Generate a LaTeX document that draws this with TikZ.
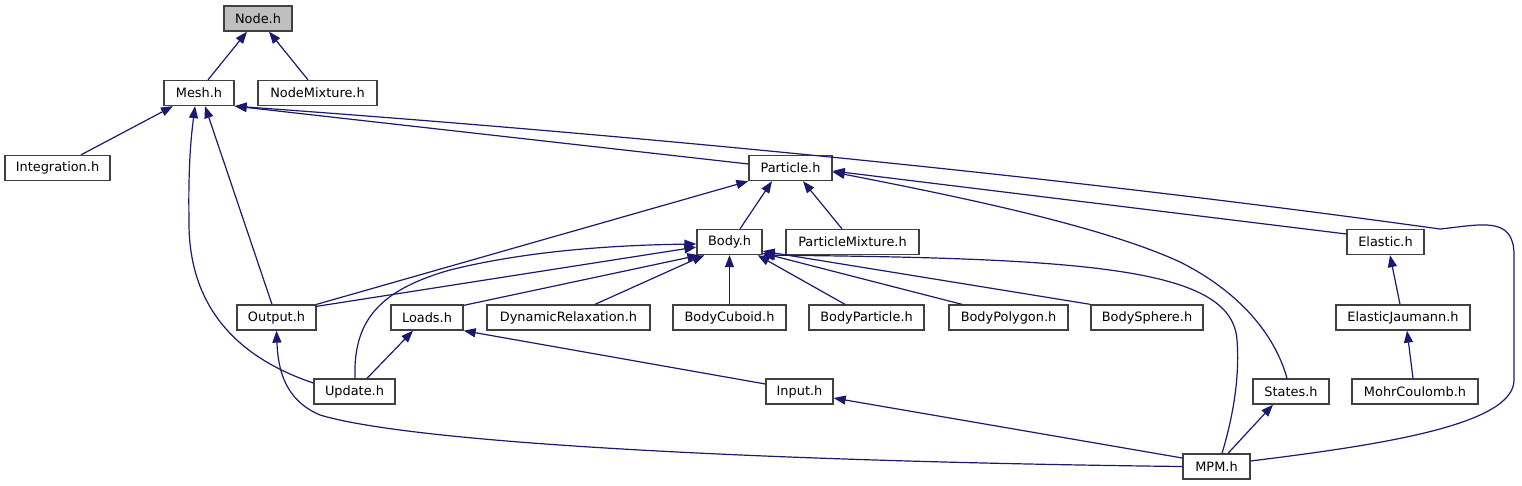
\documentclass[tikz,border=0pt]{standalone}
\usepackage{fontspec}
\setmainfont{DejaVu Sans}
\usetikzlibrary{arrows.meta}
\definecolor{edgec}{HTML}{191970}
\definecolor{boxc}{HTML}{404040}
\definecolor{hlfill}{HTML}{BFBFBF}
\begin{document}
\begin{tikzpicture}[x=1pt,y=-1pt,
  box/.style={draw=boxc, line width=1.3pt, fill=white, minimum height=25pt, inner sep=0pt,
    font=\fontsize{12.9}{15}\selectfont, text=black},
  edge/.style={draw=edgec, line width=1.2pt, -{Triangle[length=12pt,width=9pt]}}]
\useasboundingbox (0,0) rectangle (1522,485);
\node[box, fill=hlfill, minimum width=68pt] (node) at (258,18.5) {Node.h};
\node[box, minimum width=70pt] (mesh) at (199,93) {Mesh.h};
\node[box, minimum width=119pt] (nodemix) at (317.5,93) {NodeMixture.h};
\node[box, minimum width=105pt] (integ) at (57.5,168) {Integration.h};
\node[box, minimum width=83pt] (particle) at (790.5,168) {Particle.h};
\node[box, minimum width=65pt] (body) at (729.5,242) {Body.h};
\node[box, minimum width=133pt] (pmix) at (852.5,242) {ParticleMixture.h};
\node[box, minimum width=77pt] (elastic) at (1385.5,242) {Elastic.h};
\node[box, minimum width=79pt] (output) at (276.5,317.5) {Output.h};
\node[box, minimum width=72pt] (loads) at (427,317.5) {Loads.h};
\node[box, minimum width=163pt] (dynrel) at (568.5,317.5) {DynamicRelaxation.h};
\node[box, minimum width=113pt] (cuboid) at (729.5,317.5) {BodyCuboid.h};
\node[box, minimum width=115pt] (bparticle) at (866.5,317.5) {BodyParticle.h};
\node[box, minimum width=119pt] (polygon) at (1008.5,317.5) {BodyPolygon.h};
\node[box, minimum width=112pt] (sphere) at (1147,317.5) {BodySphere.h};
\node[box, minimum width=134pt] (jaumann) at (1403,317.5) {ElasticJaumann.h};
\node[box, minimum width=81pt] (update) at (354.5,391.5) {Update.h};
\node[box, minimum width=67pt] (input) at (799.5,391.5) {Input.h};
\node[box, minimum width=76pt] (states) at (1291,391.5) {States.h};
\node[box, minimum width=126pt] (mohr) at (1415,391.5) {MohrCoulomb.h};
\node[box, minimum width=67pt] (mpm) at (1216.5,466.5) {MPM.h};

\draw[edge] ([xshift=9pt]mesh.north) -- ([xshift=-11pt]node.south);
\draw[edge] ([xshift=-9.5pt]nodemix.north) -- ([xshift=11pt]node.south);
\draw[edge] ([xshift=23.5pt]integ.north) -- ([xshift=-26pt]mesh.south);
\draw[edge] ([yshift=4pt]particle.west) -- (mesh.south east);
\draw[edge] ([yshift=5.5pt]mpm.east) .. controls (1380,445) and (1514,425) .. (1514,380) -- (1514,255)
  .. controls (1514,215) and (1480,225) .. (1440,229) .. controls (1050,175) and (635,135) .. (mesh.south east);
\draw[edge] ([xshift=-4.5pt]output.north) -- ([xshift=6pt]mesh.south);
\draw[edge] ([yshift=8.5pt]update.west) .. controls (230,355) and (188,300) .. (189,220)
  .. controls (188,160) and (192,130) .. ([xshift=-4pt]mesh.south);
\draw[edge] ([xshift=10.5pt]body.north) -- ([xshift=-18.5pt]particle.south);
\draw[edge] ([xshift=-10.5pt]pmix.north) -- ([xshift=12.5pt]particle.south);
\draw[edge] (output.north east) -- (particle.south west);
\draw[edge] ([yshift=8pt]elastic.west) -- ([yshift=-3pt]particle.east);
\draw[edge] ([xshift=-4pt]states.north) .. controls (1275,335) and (1240,292) .. (1180,262)
  .. controls (1100,225) and (950,195) .. ([yshift=-4pt]particle.east);
\draw[edge] ([yshift=-2pt]output.north east) -- ([yshift=-5pt]body.west);
\draw[edge] ([xshift=0.5pt]update.north) .. controls (353,320) and (380,290) .. (450,270)
  .. controls (530,250) and (620,245) .. ([yshift=-2pt]body.west);
\draw[edge] ([yshift=-1pt]loads.north east) -- ([xshift=3pt]body.south west);
\draw[edge] ([xshift=26.5pt]dynrel.north) -- ([xshift=8pt]body.south west);
\draw[edge] (cuboid.north) -- (body.south);
\draw[edge] ([xshift=-21.5pt]bparticle.north) -- ([xshift=-5pt]body.south east);
\draw[edge] ([xshift=-46.5pt]polygon.north) -- ([yshift=2pt]body.south east);
\draw[edge] (sphere.north west) -- ([yshift=4pt]body.south east);
\draw[edge] ([xshift=5.5pt]mpm.north) .. controls (1232,420) and (1240,380) .. (1237,340)
  .. controls (1232,270) and (1100,258) .. (body.south east);
\draw[edge] ([xshift=-3pt]jaumann.north) -- ([xshift=4.5pt]elastic.south);
\draw[edge] ([xshift=-2pt]mohr.north) -- ([xshift=4pt]jaumann.south);
\draw[edge] ([xshift=12.5pt]update.north) -- ([xshift=-14pt]loads.south);
\draw[edge] ([yshift=7.5pt]input.west) -- (loads.south east);
\draw[edge] (mpm.west) .. controls (800,462) and (420,445) .. (320,415)
  .. controls (285,400) and (278,370) .. (output.south);
\draw[edge] ([yshift=8.5pt]mpm.west) -- ([yshift=-6.5pt]input.east);
\draw[edge] ([xshift=11.5pt]mpm.north) -- ([xshift=-18pt]states.south);
\end{tikzpicture}
\end{document}
